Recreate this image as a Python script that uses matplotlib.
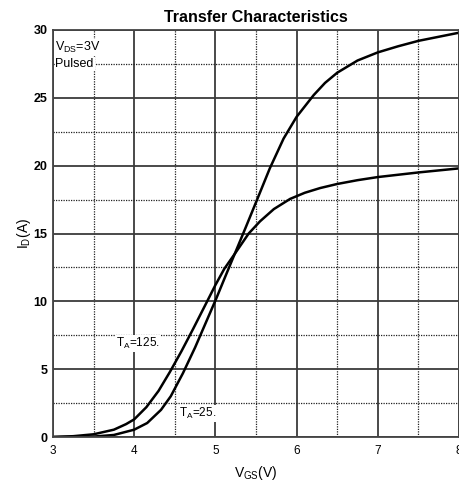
import matplotlib
matplotlib.use("Agg")
import matplotlib.pyplot as plt
from matplotlib.ticker import MultipleLocator

plt.rcParams['font.family'] = ['Liberation Sans', 'DejaVu Sans']
plt.rcParams['mathtext.fontset'] = 'custom'
plt.rcParams['mathtext.rm'] = 'Liberation Sans'
plt.rcParams['mathtext.it'] = 'Liberation Sans'

# Data
vgs_125 = [3.0, 3.25, 3.5, 3.75, 3.9, 4.0, 4.15, 4.3, 4.44, 4.58, 4.72, 4.89, 5.0, 5.11,
           5.25, 5.41, 5.55, 5.72, 5.92, 6.1, 6.29, 6.5, 6.75, 7.0, 7.5, 8.0]
id_125 = [0.0, 0.06, 0.2, 0.54, 0.95, 1.3, 2.2, 3.4, 4.8, 6.3, 7.9, 9.9, 11.2, 12.4,
          13.6, 15.0, 15.9, 16.8, 17.55, 18.0, 18.35, 18.65, 18.93, 19.16, 19.5, 19.8]

vgs_25 = [3.0, 3.5, 3.75, 4.0, 4.16, 4.33, 4.45, 4.6, 4.75, 4.88, 5.01, 5.12, 5.245,
          5.37, 5.5, 5.67, 5.84, 6.0, 6.21, 6.35, 6.5, 6.75, 7.0, 7.25, 7.5, 8.0]
id_25 = [0.0, 0.03, 0.15, 0.54, 1.03, 2.0, 3.0, 4.7, 6.6, 8.4, 10.2, 11.8, 13.6,
         15.4, 17.3, 19.8, 22.0, 23.6, 25.2, 26.1, 26.85, 27.75, 28.35, 28.8, 29.2, 29.8]

x_ticks = [3, 4, 5, 6, 7, 8]
y_ticks = [0, 5, 10, 15, 20, 25, 30]

fig = plt.figure(figsize=(4.6, 4.83), dpi=100)
ax = fig.add_axes([53/460, 1-437/483, (459-53)/460, (437-30)/483])

ax.set_xlim(3, 8)
ax.set_ylim(0, 30)
ax.set_xticks(x_ticks)
ax.set_yticks(y_ticks)
ax.xaxis.set_minor_locator(MultipleLocator(0.5))
ax.yaxis.set_minor_locator(MultipleLocator(2.5))
ax.grid(which='major', color='#3a3a3a', linewidth=1.3, linestyle='-')
ax.grid(which='minor', color='#222222', linewidth=0.9, linestyle=(0, (1, 1)))
ax.set_axisbelow(True)
ax.tick_params(which='both', length=0)
ax.tick_params(axis='x', labelsize=8.5, pad=6)
ax.tick_params(axis='y', labelsize=9, pad=4)
for lbl in ax.get_yticklabels():
    lbl.set_fontweight('bold')
for s in ax.spines.values():
    s.set_color('#444444')
    s.set_linewidth(1.3)

ax.plot(vgs_125, id_125, color='black', linewidth=1.8, solid_joinstyle='round')
ax.plot(vgs_25, id_25, color='black', linewidth=1.8, solid_joinstyle='round')

ax.set_title('Transfer Characteristics', fontsize=11.5, fontweight='bold', pad=6)
ax.set_xlabel('V$_\\mathregular{GS}$(V)', fontsize=10, labelpad=5)
ax.set_ylabel('I$_\\mathregular{D}$(A)', fontsize=10, labelpad=0)

bb = dict(facecolor='white', edgecolor='none', pad=0.5)
ax.text(3.03, 28.7, 'V$_\\mathregular{DS}$=3V', fontsize=9, ha='left', va='center', bbox=bb)
ax.text(3.03, 27.5, 'Pulsed', fontsize=9, ha='left', va='center', bbox=bb)
ax.text(3.77, 6.9, 'T$_\\mathregular{A}$=125.', fontsize=8.5, ha='left', va='center', bbox=bb)
ax.text(4.55, 1.75, 'T$_\\mathregular{A}$=25.', fontsize=8.5, ha='left', va='center', bbox=bb)

fig.savefig('out.png', dpi=100)
